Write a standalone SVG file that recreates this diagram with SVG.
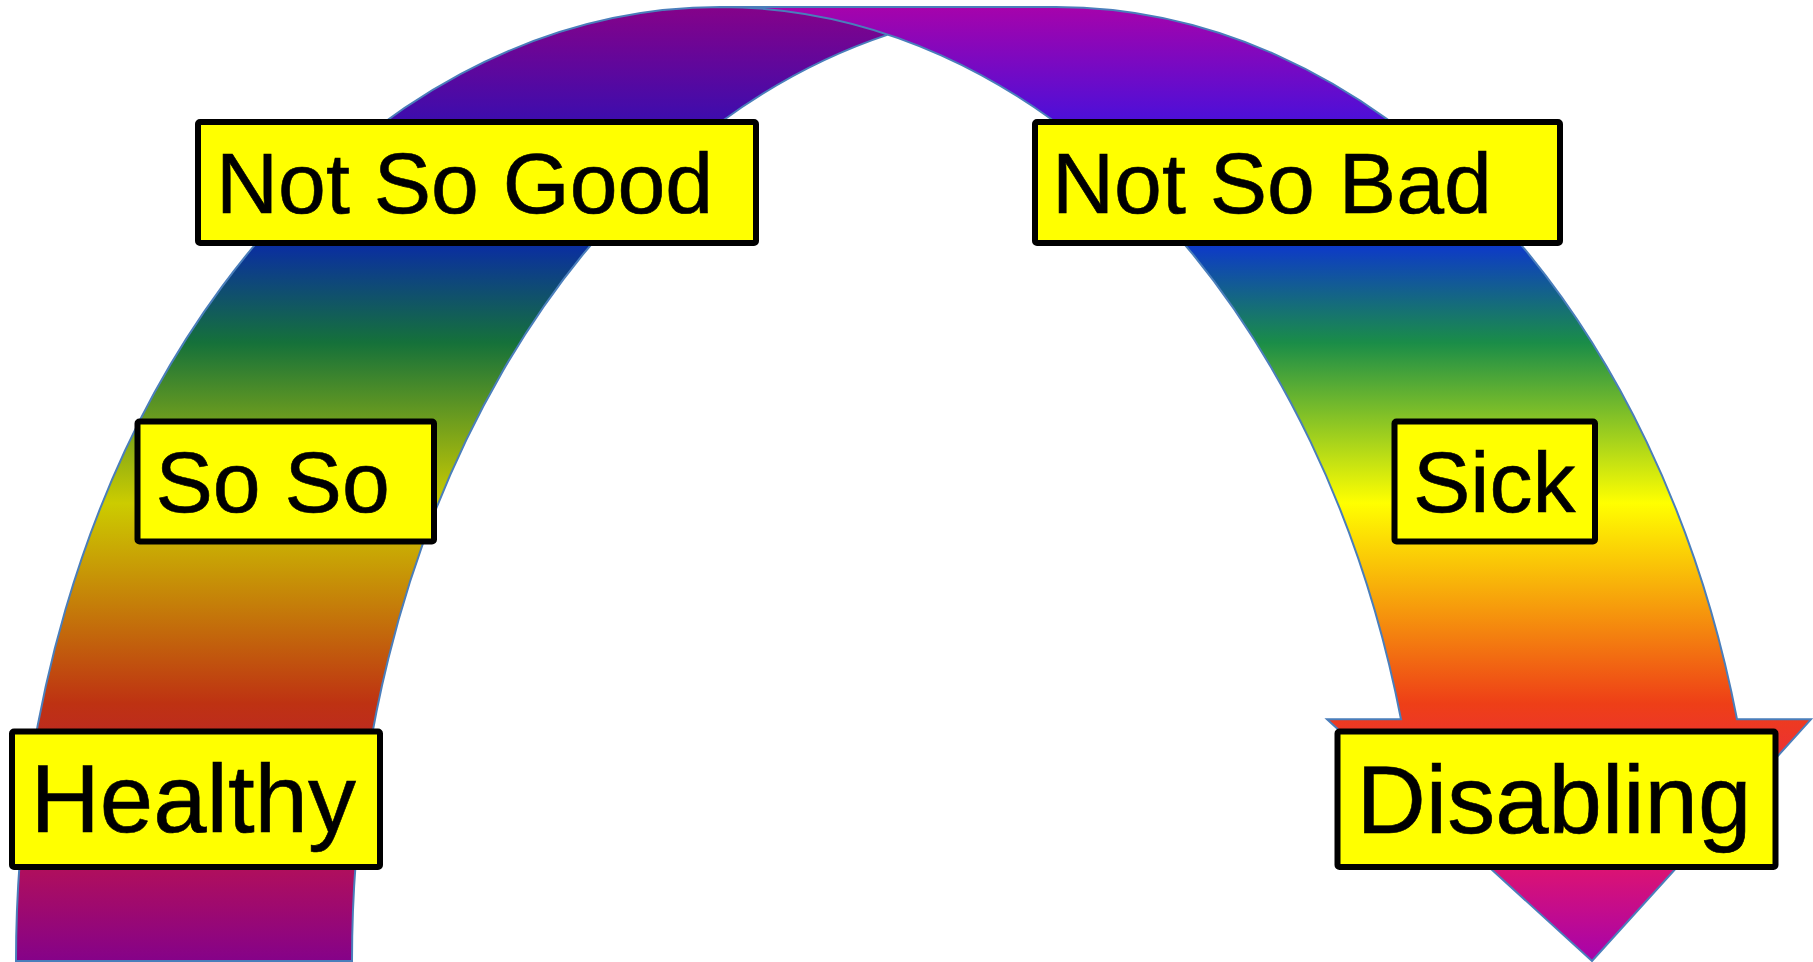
<svg xmlns="http://www.w3.org/2000/svg" width="1813" height="962" viewBox="0 0 1813 962">
  <defs>
    <linearGradient id="lit" gradientUnits="userSpaceOnUse" x1="0" y1="7" x2="0" y2="961">
      <stop offset="0" stop-color="#A603AB"/>
      <stop offset="0.21" stop-color="#0819FB"/>
      <stop offset="0.352" stop-color="#1A8D48"/>
      <stop offset="0.52" stop-color="#FFFF00"/>
      <stop offset="0.73" stop-color="#EE3F17"/>
      <stop offset="0.88" stop-color="#E81766"/>
      <stop offset="1" stop-color="#A603AB"/>
    </linearGradient>
    <linearGradient id="dark" gradientUnits="userSpaceOnUse" x1="0" y1="7" x2="0" y2="961">
      <stop offset="0" stop-color="#850289"/>
      <stop offset="0.21" stop-color="#0614C9"/>
      <stop offset="0.352" stop-color="#15713A"/>
      <stop offset="0.52" stop-color="#CCCC00"/>
      <stop offset="0.73" stop-color="#BE3212"/>
      <stop offset="0.88" stop-color="#BA1252"/>
      <stop offset="1" stop-color="#850289"/>
    </linearGradient>
    <style>
      .box { fill: #FFFF00; stroke: #000000; stroke-width: 6; }
      .lbl { font-family: "Liberation Sans", Arial, sans-serif; fill: #000000; stroke: #000000; stroke-width: 0.6; }
      .s86 { font-size: 86px; }
      .s96 { font-size: 96px; }
      .outline { fill: none; stroke: #4A7EBB; stroke-width: 2; stroke-linejoin: miter; }
    </style>
  </defs>
  <rect width="1813" height="962" fill="#FFFFFF"/>

  <g id="connectors">
    <g id="arrow">
      <path fill="url(#lit)" d="M 1592 961 L 1327 719.3 L 1401 719.3 A 704 954 0 0 0 720 7 L 1056 7 A 704 954 0 0 1 1737 719.3 L 1811 719.3 Z"/>
      <path fill="url(#dark)" d="M 888 34.6 A 704 954 0 0 0 352 961 L 16 961 A 704 954 0 0 1 888 34.6 Z"/>
      <path class="outline" d="M 888 34.6 A 704 954 0 0 0 352 961 L 16 961 A 704 954 0 0 1 720 7 L 1056 7 A 704 954 0 0 1 1737 719.3 L 1811 719.3 L 1592 961 L 1327 719.3 L 1401 719.3 A 704 954 0 0 0 720 7"/>
    </g>
  </g>

  <g id="not-so-good">
    <rect class="box" x="198" y="122" width="558" height="121" rx="2"/>
    <text class="lbl s86" x="216" y="213">Not So Good</text>
  </g>
  <g id="not-so-bad">
    <rect class="box" x="1035" y="122" width="525" height="121" rx="2"/>
    <text class="lbl s86" x="1052" y="213">Not So Bad</text>
  </g>
  <g id="so-so">
    <rect class="box" x="137.5" y="421.5" width="296.5" height="120" rx="2"/>
    <text class="lbl s86" x="155.5" y="512">So So</text>
  </g>
  <g id="sick">
    <rect class="box" x="1394.5" y="421.5" width="200.5" height="120" rx="2"/>
    <text class="lbl s86" x="1413" y="512">Sick</text>
  </g>
  <g id="healthy">
    <rect class="box" x="12" y="731.5" width="368" height="135.5" rx="2"/>
    <text class="lbl s96" x="30.5" y="832">Healthy</text>
  </g>
  <g id="disabling">
    <rect class="box" x="1337.5" y="731.5" width="438" height="135.5" rx="2"/>
    <text class="lbl s96" x="1356.5" y="832.5">Disabling</text>
  </g>
</svg>
